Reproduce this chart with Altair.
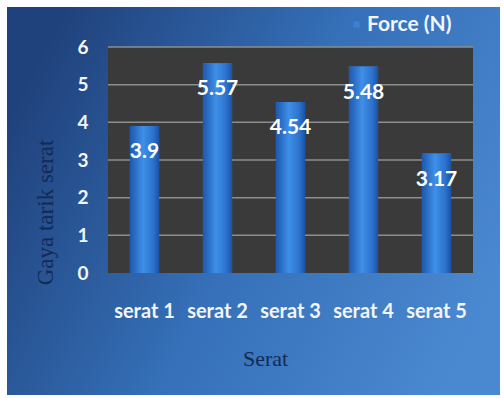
import altair as alt
import pandas as pd

categories = ["serat 1", "serat 2", "serat 3", "serat 4", "serat 5"]
force = [3.9, 5.57, 4.54, 5.48, 3.17]
value_labels = ["3.9", "5.57", "4.54", "5.48", "3.17"]
y_ticks = [0, 1, 2, 3, 4, 5, 6]
series_name = "Force (N)"

df = pd.DataFrame({
    "Serat": categories,
    "Force": force,
    "label": value_labels,
    "series": [series_name] * len(categories),
})
grid_df = pd.DataFrame({"Force": y_ticks[1:]})
one = pd.DataFrame({"a": [0]})

W, H = 365, 226

xscale = alt.Scale(domain=categories, paddingInner=0.6, paddingOuter=0.3)
yscale = alt.Scale(domain=[0, 6], nice=False, zero=True)

y_axis = alt.Axis(
    values=y_ticks, grid=False, domain=False, ticks=False, zindex=1,
    labelColor="#f2f5fa", labelFont="Lato", labelFontWeight="bold",
    labelFontSize=19, labelPadding=20,
    title="Gaya tarik serat", titleFont="Liberation Serif", titleFontWeight="normal",
    titleFontSize=23, titleColor="#132a55", titleX=-63, titleY=165,
    titleAlign="center", titleBaseline="middle", titleAngle=270,
)
x_axis = alt.Axis(
    grid=False, domain=False, ticks=False, labelAngle=0, zindex=1,
    labelColor="#f2f5fa", labelFont="Lato", labelFontWeight="bold",
    labelFontSize=20, labelPadding=28,
    title="Serat", titleFont="Liberation Serif", titleFontWeight="normal",
    titleFontSize=22, titleColor="#132a55", titleX=157, titleY=85,
    titleAlign="center", titleBaseline="middle",
)

bg_grad = alt.Gradient(
    gradient="linear", x1=0, y1=0.3, x2=1, y2=0.7,
    stops=[alt.GradientStop(color="#20427c", offset=0),
           alt.GradientStop(color="#3570b8", offset=0.5),
           alt.GradientStop(color="#4a88cf", offset=1)],
)
bg = alt.Chart(one).mark_rect(fill=bg_grad).encode(
    x=alt.value(-101), x2=alt.value(392), y=alt.value(-40), y2=alt.value(348)
)
plot_rect = alt.Chart(one).mark_rect(fill="#3a3a3a").encode(
    x=alt.value(0), x2=alt.value(W), y=alt.value(0), y2=alt.value(H)
)
grid = alt.Chart(grid_df).mark_rule(color="#8e8e8e", strokeWidth=1.5).encode(
    y=alt.Y("Force:Q", scale=yscale, axis=y_axis),
    x=alt.value(0), x2=alt.value(W),
)

base = alt.Chart(df).encode(
    x=alt.X("Serat:N", scale=xscale, axis=x_axis, sort=categories),
    y=alt.Y("Force:Q", scale=yscale, axis=y_axis),
)
bars_legend = base.mark_bar().encode(
    color=alt.Color(
        "series:N", scale=alt.Scale(range=["#3b7fd6"]),
        legend=alt.Legend(
            orient="none", legendX=238, legendY=-33, title=None, zindex=1,
            labelColor="#f2f5fa", labelFont="Lato", labelFontWeight="bold",
            labelFontSize=21, labelOffset=0, symbolType="square", symbolSize=40,
            symbolStrokeWidth=0,
        ),
    )
)
bar_grad = alt.Gradient(
    gradient="linear", x1=0, y1=0, x2=1, y2=0,
    stops=[alt.GradientStop(color="#1d58ad", offset=0),
           alt.GradientStop(color="#3f8fe8", offset=0.45),
           alt.GradientStop(color="#2c72cc", offset=0.8),
           alt.GradientStop(color="#1b52a3", offset=1)],
)
bars = base.mark_bar(fill=bar_grad)
labels = base.mark_text(
    dy=26, color="#ffffff", font="Lato", fontWeight="bold", fontSize=21
).encode(text="label:N")

chart = alt.layer(bg, plot_rect, grid, bars_legend, bars, labels).properties(
    width=W, height=H,
    autosize=alt.AutoSizeParams(type="none"),
    padding={"left": 108, "top": 47, "right": 31, "bottom": 125},
    background="#ffffff",
).configure_view(stroke=None)

chart.save("out.html", embed_options={"renderer": "svg", "actions": False})
